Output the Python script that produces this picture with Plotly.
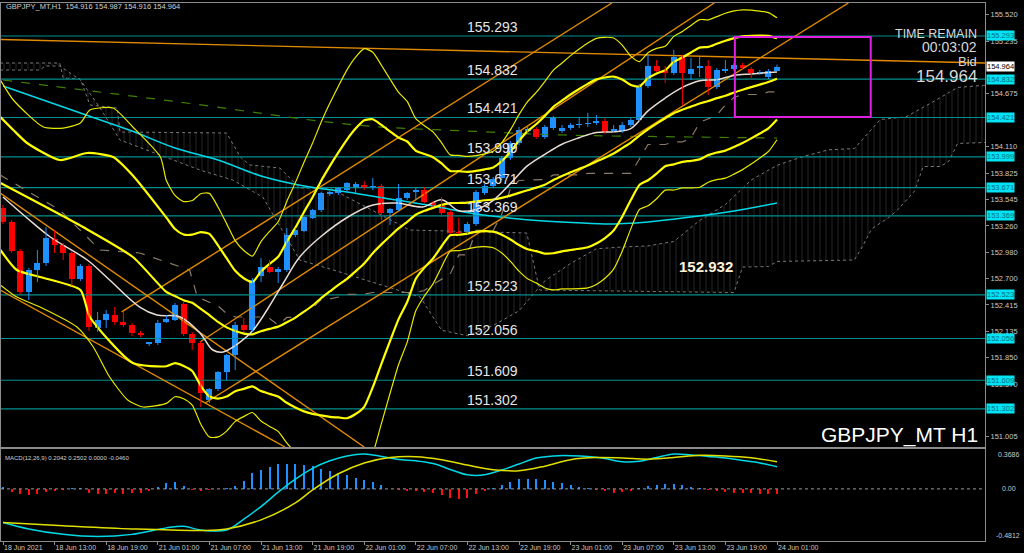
import plotly.graph_objects as go

# ---------------- data ----------------
bars = list(range(91))
opens = [153.452,153.303,152.993,152.554,152.789,152.864,153.121,153.057,152.971,152.693,
         152.832,152.168,152.254,152.308,152.233,152.201,152.115,151.997,152.008,152.233,
         152.254,152.425,152.104,152.008,151.398,151.516,151.698,151.880,152.201,152.147,
         152.725,152.821,152.768,152.789,153.164,153.206,153.345,153.431,153.602,153.613,
         153.645,153.666,153.699,153.677,153.688,153.399,153.431,153.559,153.624,153.645,
         153.506,153.474,153.410,153.196,153.196,153.281,153.613,153.688,153.773,153.987,
         154.148,154.276,154.298,154.212,154.308,154.276,154.308,154.341,154.351,154.362,
         154.383,154.276,154.276,154.341,154.394,154.758,154.972,154.929,154.897,155.068,
         154.886,154.950,154.972,154.747,154.918,154.940,154.983,154.940,154.897,154.854,
         154.916]
highs = [153.485,153.324,153.014,152.810,153.003,153.249,153.217,153.078,152.993,152.853,
         152.853,152.340,152.361,152.393,152.340,152.222,152.136,152.019,152.254,152.308,
         152.436,152.447,152.126,152.029,151.526,151.708,151.890,152.233,152.275,152.703,
         152.917,152.896,152.821,153.238,153.238,153.367,153.442,153.624,153.634,153.677,
         153.731,153.731,153.741,153.773,153.709,153.452,153.709,153.624,153.666,153.677,
         153.527,153.570,153.431,153.345,153.303,153.645,153.709,153.784,154.009,154.169,
         154.319,154.330,154.319,154.341,154.437,154.341,154.362,154.426,154.469,154.448,
         154.415,154.341,154.373,154.415,154.779,155.090,155.036,154.972,155.143,155.090,
         155.057,155.068,155.036,154.950,155.036,155.004,155.004,154.961,154.929,154.940,
         154.987]
lows = [153.281,152.971,152.532,152.468,152.661,152.832,152.971,152.896,152.618,152.671,
        152.136,152.126,152.168,152.201,152.179,152.083,152.072,151.976,151.987,152.222,
        152.243,152.083,151.933,151.323,151.366,151.494,151.612,151.719,152.126,152.126,
        152.661,152.757,152.650,152.768,153.142,153.196,153.335,153.410,153.581,153.592,
        153.624,153.613,153.645,153.645,153.324,153.271,153.420,153.538,153.538,153.506,
        153.463,153.356,153.174,153.174,153.174,153.260,153.592,153.666,153.752,153.966,
        154.126,154.255,154.191,154.191,154.287,154.255,154.287,154.308,154.319,154.341,
        154.244,154.255,154.255,154.319,154.373,154.736,154.908,154.790,154.876,154.555,
        154.822,154.854,154.662,154.726,154.897,154.918,154.940,154.843,154.876,154.833,
        154.916]
closes = [153.303,152.993,152.554,152.789,152.864,153.132,153.057,152.971,152.693,152.832,
          152.179,152.254,152.318,152.233,152.201,152.115,152.094,152.019,152.222,152.265,
          152.415,152.104,152.008,151.473,151.516,151.698,151.880,152.201,152.147,152.682,
          152.821,152.768,152.800,153.164,153.217,153.356,153.431,153.613,153.624,153.666,
          153.720,153.709,153.677,153.688,153.399,153.442,153.559,153.613,153.645,153.517,
          153.474,153.399,153.185,153.185,153.281,153.624,153.688,153.763,153.987,154.148,
          154.287,154.298,154.212,154.319,154.415,154.308,154.341,154.351,154.362,154.383,
          154.266,154.298,154.341,154.394,154.758,154.972,154.918,154.897,155.068,154.897,
          154.940,154.972,154.747,154.929,154.940,154.983,154.950,154.897,154.908,154.918,
          154.964]

x_tick_bars = [0, 6, 12, 18, 24, 30, 36, 42, 48, 54, 60, 66, 72, 78, 84, 90]
x_tick_text = ["18 Jun 2021", "18 Jun 13:00", "18 Jun 19:00", "21 Jun 01:00", "21 Jun 07:00",
               "21 Jun 13:00", "21 Jun 19:00", "22 Jun 01:00", "22 Jun 07:00", "22 Jun 13:00",
               "22 Jun 19:00", "23 Jun 01:00", "23 Jun 07:00", "23 Jun 13:00", "23 Jun 19:00",
               "24 Jun 01:00"]
price_ticks = [155.520, 155.235, 154.675, 154.110, 153.825, 153.545,
               153.260, 152.980, 152.700, 152.415, 152.135, 151.850, 151.570, 151.005]
levels = [155.293, 154.832, 154.421, 153.999, 153.671, 153.369, 152.523, 152.056, 151.609, 151.302]

# slow moving average (cyan)
ma_cyan_x = [0, 5, 10, 15, 20, 25, 30, 35, 40, 45, 50, 55, 60, 65, 70, 75, 80, 85, 90]
ma_cyan_y = [154.758, 154.597, 154.437, 154.276, 154.094, 153.966, 153.795, 153.688, 153.624,
             153.549, 153.474, 153.388, 153.335, 153.303, 153.281, 153.303, 153.356, 153.420, 153.506]
# dashed green moving average
ma_green_x = [0, 20, 41, 55, 65, 80, 90]
ma_green_y = [154.822, 154.592, 154.341, 154.272, 154.234, 154.212, 154.201]
# fast moving average (white)
ma_white_x = [0, 2.8, 5.5, 9.8, 12.4, 15.9, 17.9, 20.6, 22.9, 24.4, 25.6, 27.6, 29.1, 30.7, 32.6,
              34.5, 36.9, 40.3, 43, 45.8, 48.8, 51, 53, 55, 57, 59, 61, 63, 65, 67, 69, 71, 73,
              75, 77, 79, 81, 83, 85, 87, 90]
ma_white_y = [153.570, 153.345, 153.142, 152.896, 152.682, 152.393, 152.308, 152.286, 152.115,
              151.933, 151.912, 152.019, 152.147, 152.361, 152.650, 152.928, 153.142, 153.367,
              153.485, 153.506, 153.463, 153.541, 153.423, 153.438, 153.535, 153.713, 153.905,
              154.026, 154.135, 154.205, 154.261, 154.268, 154.302, 154.492, 154.629, 154.743,
              154.814, 154.825, 154.871, 154.887, 154.908]

# Bollinger bands 20 (thick: 2 dev, thin: 3 dev) - left part then one value per bar 19..90
bb_lead_mid_x = [-0.3, 9.3, 15.1]
bb_lead_mid_y = [153.720, 153.249, 152.928]
bb_lead_up_x = [-0.3, 1.2, 2.8, 6.6, 9.8, 12.8, 15.1]
bb_lead_up_y = [154.426, 154.287, 154.148, 153.966, 154.041, 153.998, 153.80]
bb_lead_lo_x = [-0.3, 1.6, 4.3, 9.0, 10.1, 15.1]
bb_lead_lo_y = [153.003, 152.789, 152.714, 152.575, 152.286, 151.794]
bb3_lead_up_x = [-0.3, 1.2, 4.7, 7.0, 9.0, 10.1, 12.8, 15.1, 18.3]
bb3_lead_up_y = [154.822, 154.608, 154.319, 154.308, 154.362, 154.501, 154.522, 154.319, 153.998]
bb3_lead_lo_x = [-0.3, 1.6, 4.3, 8.6, 10.5, 12.4, 14.5, 16.3]
bb3_lead_lo_y = [152.629, 152.500, 152.393, 152.179, 151.965, 151.644, 151.398, 151.323]
bb_bars = list(range(19, 91))
bb_mid = [152.554, 152.510, 152.466, 152.438, 152.372, 152.305, 152.233, 152.175, 152.136, 152.109,
          152.101, 152.133, 152.159, 152.183, 152.230, 152.280, 152.343, 152.409, 152.489, 152.559,
          152.629, 152.694, 152.775, 152.858, 152.969, 153.063, 153.150, 153.234, 153.305, 153.380,
          153.422, 153.454, 153.486, 153.505, 153.506, 153.509, 153.523, 153.535, 153.543, 153.561,
          153.585, 153.614, 153.643, 153.670, 153.701, 153.752, 153.795, 153.835, 153.871, 153.907,
          153.951, 153.990, 154.035, 154.093, 154.153, 154.227, 154.295, 154.356, 154.413, 154.467,
          154.504, 154.537, 154.571, 154.597, 154.628, 154.654, 154.688, 154.718, 154.746, 154.773,
          154.800, 154.835]
bb_up = [153.349, 153.228, 153.169, 153.167, 153.194, 153.175, 153.053, 152.915, 152.780, 152.701,
         152.659, 152.773, 152.855, 152.931, 153.092, 153.243, 153.410, 153.568, 153.745, 153.901,
         154.047, 154.185, 154.302, 154.391, 154.402, 154.341, 154.272, 154.205, 154.164, 154.065,
         154.030, 153.996, 153.929, 153.849, 153.846, 153.839, 153.849, 153.866, 153.887, 153.955,
         154.054, 154.172, 154.275, 154.349, 154.437, 154.536, 154.601, 154.667, 154.726, 154.781,
         154.829, 154.849, 154.859, 154.828, 154.769, 154.755, 154.841, 154.892, 154.926, 155.015,
         155.062, 155.117, 155.169, 155.176, 155.210, 155.242, 155.270, 155.288, 155.295, 155.297,
         155.295, 155.270]
bb_lo = [151.759, 151.792, 151.763, 151.709, 151.550, 151.435, 151.413, 151.435, 151.492, 151.517,
         151.543, 151.493, 151.463, 151.435, 151.368, 151.317, 151.276, 151.250, 151.233, 151.217,
         151.211, 151.203, 151.248, 151.325, 151.536, 151.785, 152.028, 152.263, 152.446, 152.695,
         152.814, 152.912, 153.043, 153.161, 153.166, 153.179, 153.197, 153.204, 153.199, 153.167,
         153.116, 153.056, 153.011, 152.991, 152.965, 152.968, 152.989, 153.003, 153.016, 153.033,
         153.073, 153.131, 153.211, 153.358, 153.537, 153.699, 153.749, 153.820, 153.900, 153.919,
         153.946, 153.957, 153.973, 154.018, 154.046, 154.066, 154.106, 154.148, 154.197, 154.249,
         154.305, 154.400]
bb3_up = [153.746, 153.587, 153.521, 153.532, 153.605, 153.609, 153.463, 153.285, 153.103, 152.997,
          152.938, 153.093, 153.203, 153.305, 153.522, 153.724, 153.943, 154.148, 154.373, 154.573,
          154.756, 154.930, 155.066, 155.157, 155.119, 154.980, 154.833, 154.690, 154.593, 154.408,
          154.333, 154.267, 154.150, 154.021, 154.016, 154.004, 154.012, 154.031, 154.059, 154.152,
          154.288, 154.451, 154.591, 154.689, 154.805, 154.928, 155.004, 155.083, 155.153, 155.217,
          155.268, 155.279, 155.272, 155.196, 155.077, 155.018, 155.114, 155.160, 155.182, 155.289,
          155.341, 155.406, 155.468, 155.466, 155.500, 155.536, 155.561, 155.573, 155.570, 155.559,
          155.543, 155.487]
bb3_lo = [151.362, 151.433, 151.411, 151.344, 151.139, 151.001, 151.003, 151.065, 151.169, 151.221,
          151.264, 151.173, 151.115, 151.061, 150.938, 150.836, 150.743, 150.670, 150.605, 150.545,
          150.502, 150.458, 150.484, 150.559, 150.819, 151.146, 151.467, 151.778, 152.017, 152.352,
          152.511, 152.641, 152.822, 152.989, 152.996, 153.014, 153.034, 153.039, 153.027, 152.970,
          152.882, 152.777, 152.695, 152.651, 152.597, 152.576, 152.586, 152.587, 152.589, 152.597,
          152.634, 152.701, 152.798, 152.990, 153.229, 153.436, 153.476, 153.552, 153.644, 153.645,
          153.667, 153.668, 153.674, 153.728, 153.756, 153.772, 153.815, 153.863, 153.922, 153.987,
          154.057, 154.183]

# Kijun-sen (dashed)
kijun_x = [-0.35, 6.6, 11.3, 15.9, 21.7, 22.6, 25, 26, 27, 30, 31, 32, 33, 34, 35, 36, 37, 38, 39,
           40, 42, 43, 48, 49, 50, 51, 52, 53, 54, 55, 57, 58, 59, 60, 63, 64, 67, 68, 73, 74, 75,
           77, 78, 79, 80, 81, 82, 83, 84, 85, 86, 88, 89, 90]
kijun_y = [153.806, 153.431, 153.003, 152.971, 152.789, 152.500, 152.404, 152.324, 152.286,
           152.286, 152.270, 152.200, 152.281, 152.281, 152.345, 152.382, 152.473, 152.479,
           152.500, 152.527, 152.532, 152.548, 152.548, 152.570, 152.634, 152.693, 152.746,
           152.950, 152.950, 153.212, 153.212, 153.388, 153.656, 153.747, 153.757, 153.806,
           153.806, 153.822, 153.822, 153.977, 154.132, 154.132, 154.159, 154.159, 154.202,
           154.367, 154.405, 154.448, 154.555, 154.635, 154.667, 154.667, 154.694, 154.694]

# Ichimoku cloud spans (shifted 26 bars forward)
span_a_x = [-0.35, 4.3, 4.9, 6.6, 9.0, 11.3, 13.6, 22.9, 26.7, 30.2, 34.5, 38.4, 48.5, 51, 54,
            57, 60, 63, 66, 69, 72, 75, 78, 81, 84, 87, 90, 93, 96, 99, 102, 105, 108, 111,
            114, 116]
span_a_y = [154.929, 154.929, 154.972, 154.972, 154.822, 154.522, 154.180, 153.859, 153.752,
            153.570, 152.896, 152.789, 152.500, 152.144, 152.085, 152.195, 152.352, 152.673,
            152.859, 153.016, 153.035, 153.046, 153.094, 153.319, 153.490, 153.752, 153.909,
            154.003, 154.075, 154.089, 154.399, 154.428, 154.581, 154.742, 154.765, 154.771]
span_b_x = [-0.35, 6.6, 7.0, 9.0, 10.1, 13.3, 13.6, 26.0, 27.6, 28.7, 32.2, 34.5, 38.0, 47.3,
            60.9, 62.4, 85, 86, 89, 90, 99, 100, 101, 102, 103, 104, 106, 107, 109, 110, 111, 116]
span_b_y = [155.004, 155.004, 154.843, 154.833, 154.555, 154.522, 154.266, 154.255, 153.998,
            153.913, 153.880, 153.666, 153.666, 153.217, 153.185, 152.575, 152.548, 152.821,
            152.826, 152.880, 152.896, 153.051, 153.228, 153.292, 153.351, 153.431, 153.634,
            153.896, 153.896, 153.955, 154.143, 154.159]

# orange trend lines: (x0, y0, x1, y1)
trend_lines = [(-0.35, 155.255, 114.2, 155.004),
               (13.8, 152.340, 70.8, 155.646),
               (22.9, 152.019, 82.7, 155.646),
               (23.5, 151.366, 98.3, 155.646),
               (-0.35, 153.613, 42.0, 150.895),
               (-0.35, 152.575, 32.8, 150.895)]
box_x = [85.1, 100.9]
box_y = [154.426, 155.282]

# MACD(12,26,9)
macd_hist = [0.02, -0.03, -0.05, -0.06, -0.05, -0.03, -0.02, -0.01, 0.005, 0.01,
             -0.04, -0.05, -0.05, -0.04, -0.05, -0.04, -0.04, -0.02, 0.02, 0.05,
             0.06, 0.03, -0.01, -0.02, -0.01, 0.0, 0.01, 0.03, 0.07, 0.145,
             0.175, 0.20, 0.23, 0.23, 0.23, 0.22, 0.21, 0.18, 0.17, 0.145,
             0.13, 0.10, 0.08, 0.06, 0.035, 0.0, -0.01, -0.02, -0.02, -0.03,
             -0.04, -0.06, -0.08, -0.095, -0.08, -0.05, -0.02, 0.01, 0.037, 0.067,
             0.09, 0.09, 0.088, 0.08, 0.067, 0.05, 0.037, 0.02, 0.005, -0.01,
             -0.02, -0.035, -0.03, -0.02, 0.01, 0.03, 0.04, 0.045, 0.045, 0.035,
             0.02, 0.01, -0.01, -0.02, -0.03, -0.035, -0.04, -0.04, -0.045, -0.045,
             -0.046]
macd_x = [0, 3, 7, 11, 15, 19, 21, 23, 26, 28, 30, 32, 34, 36, 38, 40, 42, 44, 46, 48, 50, 52,
          54, 56, 58, 60, 62, 64, 66, 68, 70, 72, 74, 76, 78, 80, 82, 84, 86, 88, 90]
macd_line = [-0.31, -0.37, -0.42, -0.44, -0.42, -0.36, -0.345, -0.38, -0.38, -0.28, -0.163,
             -0.03, 0.09, 0.19, 0.26, 0.305, 0.322, 0.30, 0.272, 0.26, 0.235, 0.18, 0.13, 0.13,
             0.175, 0.23, 0.285, 0.305, 0.307, 0.30, 0.28, 0.25, 0.255, 0.29, 0.322, 0.313,
             0.30, 0.285, 0.262, 0.24, 0.204]
sig_x = [0, 7, 15, 23, 26, 30, 34, 36, 39, 42, 45, 48, 51, 54, 57, 60, 63, 66, 69, 72, 75, 78,
         81, 84, 87, 90]
sig_line = [-0.31, -0.34, -0.37, -0.384, -0.37, -0.286, -0.13, -0.01, 0.14, 0.24, 0.29, 0.298,
            0.27, 0.22, 0.178, 0.168, 0.21, 0.27, 0.289, 0.285, 0.275, 0.29, 0.31, 0.305, 0.287,
            0.250]

# ---------------- figure ----------------
XR = [-0.2326, 114.186]
YR = [150.895, 155.646]
MR = [-0.4812, 0.3686]
FONT = "Liberation Sans"
YEL = "#ffff00"
BULL = "#1e90ff"
BEAR = "#ff0000"

fig = go.Figure()

# Ichimoku cloud
fig.add_trace(go.Scatter(x=span_b_x, y=span_b_y, mode="lines",
                         line=dict(color="#7a7a7a", width=1, dash="dot"), hoverinfo="skip"))
fig.add_trace(go.Scatter(x=span_a_x, y=span_a_y, mode="lines", fill="tonexty",
                         fillcolor="rgba(0,0,0,0)",
                         fillpattern=dict(shape="|", fgcolor="#6a6a6a", bgcolor="rgba(0,0,0,0)",
                                          size=6, solidity=0.12),
                         line=dict(color="#7a7a7a", width=1, dash="dot"), hoverinfo="skip"))

# horizontal levels
for lv in levels:
    fig.add_trace(go.Scatter(x=XR, y=[lv, lv], mode="lines",
                             line=dict(color="#008f8f", width=1.2), hoverinfo="skip"))

# moving averages
fig.add_trace(go.Scatter(x=ma_green_x, y=ma_green_y, mode="lines", line_shape="spline",
                         line=dict(color="#3f7f00", width=1.2, dash="dash")))
fig.add_trace(go.Scatter(x=kijun_x, y=kijun_y, mode="lines",
                         line=dict(color="#8a7a6a", width=1.2, dash="dash")))
fig.add_trace(go.Scatter(x=ma_cyan_x, y=ma_cyan_y, mode="lines", line_shape="spline",
                         line=dict(color="#00d8e8", width=1.5)))

# orange trend lines
for (xa, ya, xb, yb) in trend_lines:
    fig.add_trace(go.Scatter(x=[xa, xb], y=[ya, yb], mode="lines",
                             line=dict(color="#e08a00", width=1.4), hoverinfo="skip"))

# Bollinger bands
band_specs = [(bb3_lead_up_x, bb3_lead_up_y, bb3_up, 1.2),
              (bb3_lead_lo_x, bb3_lead_lo_y, bb3_lo, 1.2),
              (bb_lead_up_x, bb_lead_up_y, bb_up, 2.2),
              (bb_lead_lo_x, bb_lead_lo_y, bb_lo, 2.2),
              (bb_lead_mid_x, bb_lead_mid_y, bb_mid, 2.2)]
for lx, ly, vals, w in band_specs:
    fig.add_trace(go.Scatter(x=lx + bb_bars, y=ly + vals, mode="lines", line_shape="spline",
                             line=dict(color=YEL if w > 2 else "#e8e800", width=w, smoothing=0.6),
                             hoverinfo="skip"))

fig.add_trace(go.Scatter(x=ma_white_x, y=ma_white_y, mode="lines", line_shape="spline",
                         line=dict(color="#e8dcd4", width=1.5)))

# candles: wicks + bodies
for is_bull, col in [(True, BULL), (False, BEAR)]:
    wx, wy, bxs, bbase, bh = [], [], [], [], []
    for i, o, h, l, c in zip(bars, opens, highs, lows, closes):
        if (c >= o) != is_bull:
            continue
        wx += [i, i, None]
        wy += [l, h, None]
        bxs.append(i)
        bbase.append(min(o, c))
        bh.append(max(abs(c - o), 0.008))
    fig.add_trace(go.Scatter(x=wx, y=wy, mode="lines", line=dict(color=col, width=1),
                             hoverinfo="skip"))
    fig.add_trace(go.Bar(x=bxs, y=bh, base=bbase, width=0.68,
                         marker=dict(color=col, line=dict(width=0)), hoverinfo="skip"))

# MACD panel
hist_colors = [BULL if v >= 0 else "#ff1010" for v in macd_hist]
fig.add_trace(go.Bar(x=bars, y=macd_hist, marker=dict(color=hist_colors, line=dict(width=0)),
                     width=0.22, xaxis="x2", yaxis="y2"))
fig.add_trace(go.Scatter(x=XR, y=[0, 0], mode="lines", line=dict(color="#9a9a9a", width=1, dash="dot"),
                         xaxis="x2", yaxis="y2"))
fig.add_trace(go.Scatter(x=macd_x, y=macd_line, mode="lines", line_shape="spline",
                         line=dict(color="#00d8e8", width=1.5), xaxis="x2", yaxis="y2"))
fig.add_trace(go.Scatter(x=sig_x, y=sig_line, mode="lines", line_shape="spline",
                         line=dict(color="#e0e000", width=1.5), xaxis="x2", yaxis="y2"))

ann = []
for lv in levels:
    ann.append(dict(x=56.9, y=lv, xref="x", yref="y", text=f"{lv:.3f}", showarrow=False,
                    yshift=9, font=dict(family=FONT, size=14, color="#e6e6e6")))
for lv in levels:
    ann.append(dict(x=986 / 1024, y=lv, xref="paper", yref="y", text=f"{lv:.3f}", showarrow=False,
                    xanchor="left", bgcolor="#00e5f5", borderpad=0,
                    font=dict(family=FONT, size=7.5, color="#006c80")))
ann.append(dict(x=986 / 1024, y=closes[-1], xref="paper", yref="y", text=f"{closes[-1]:.3f}",
                showarrow=False, xanchor="left", bgcolor="#ffffff", borderpad=0,
                font=dict(family=FONT, size=7.5, color="#000000")))
ann += [
    dict(x=4 / 1024, y=(553 - 7) / 553, xref="paper", yref="paper", xanchor="left", yanchor="middle",
         text="GBPJPY_MT,H1  154.916 154.987 154.916 154.964", showarrow=False,
         font=dict(family=FONT, size=7.5, color="#d0d0d0")),
    dict(x=3 / 1024, y=(553 - 458) / 553, xref="paper", yref="paper", xanchor="left", yanchor="middle",
         text="MACD(12,26,9) 0.2042 0.2502 0.0000 -0.0460", showarrow=False,
         font=dict(family=FONT, size=6, color="#d0d0d0")),
    dict(x=980 / 1024, y=(553 - 435) / 553, xref="paper", yref="paper", xanchor="right", yanchor="middle",
         text="GBPJPY_MT H1", showarrow=False, font=dict(family=FONT, size=21, color="#ffffff")),
    dict(x=979 / 1024, y=(553 - 34) / 553, xref="paper", yref="paper", xanchor="right", yanchor="middle",
         text="TIME REMAIN", showarrow=False, font=dict(family=FONT, size=12.5, color="#d8d8d8")),
    dict(x=979 / 1024, y=(553 - 47.5) / 553, xref="paper", yref="paper", xanchor="right", yanchor="middle",
         text="00:03:02", showarrow=False, font=dict(family=FONT, size=14, color="#d8d8d8")),
    dict(x=979 / 1024, y=(553 - 61.5) / 553, xref="paper", yref="paper", xanchor="right", yanchor="middle",
         text="Bid", showarrow=False, font=dict(family=FONT, size=13, color="#d8d8d8")),
    dict(x=979 / 1024, y=(553 - 76) / 553, xref="paper", yref="paper", xanchor="right", yanchor="middle",
         text="154.964", showarrow=False, font=dict(family=FONT, size=17, color="#d8d8d8")),
    dict(x=81.8, y=152.932, xref="x", yref="y", text="<b>152.932</b>", showarrow=False, yshift=-10,
         font=dict(family=FONT, size=15, color="#fff2d8")),
    dict(x=1 - 2 / 1024, y=0.3686, xref="paper", yref="y2", xanchor="right", yanchor="top",
         text="0.3686", showarrow=False, font=dict(family=FONT, size=7, color="#c8c8c8")),
    dict(x=1 - 6 / 1024, y=0.0, xref="paper", yref="y2", xanchor="right",
         text="0.00", showarrow=False, font=dict(family=FONT, size=7, color="#c8c8c8")),
    dict(x=1 - 2 / 1024, y=-0.4812, xref="paper", yref="y2", xanchor="right", yanchor="bottom",
         text="-0.4812", showarrow=False, font=dict(family=FONT, size=7, color="#c8c8c8")),
]

shapes = [dict(type="rect", xref="x", yref="y", x0=box_x[0], x1=box_x[1], y0=box_y[0], y1=box_y[1],
               line=dict(color="#e020e0", width=2))]

axis_common = dict(showgrid=False, zeroline=False, showline=True, linecolor="#8c8c8c",
                   linewidth=1, mirror=True, automargin=False)
fig.update_layout(
    width=1024, height=553, margin=dict(l=0, r=0, t=0, b=0, autoexpand=False),
    paper_bgcolor="#000000", plot_bgcolor="#000000", showlegend=False,
    font=dict(family=FONT, color="#c8c8c8"), barmode="overlay",
    xaxis=dict(domain=[1 / 1024, 985 / 1024], range=XR, anchor="y", showticklabels=False,
               ticks="", rangeslider=dict(visible=False), **axis_common),
    yaxis=dict(domain=[(553 - 447) / 553, (553 - 3) / 553], range=YR, anchor="x", side="right",
               tickvals=price_ticks, ticktext=[f"{t:.3f}" for t in price_ticks],
               ticks="outside", ticklen=3, tickcolor="#8c8c8c",
               tickfont=dict(family=FONT, size=7.5, color="#c8c8c8"), **axis_common),
    xaxis2=dict(domain=[1 / 1024, 985 / 1024], range=XR, anchor="y2", matches="x",
                tickvals=x_tick_bars, ticktext=x_tick_text, ticks="outside", ticklen=3,
                tickcolor="#8c8c8c", ticklabelposition="outside right",
                tickfont=dict(family=FONT, size=7, color="#c8c8c8"), **axis_common),
    yaxis2=dict(domain=[(553 - 541) / 553, (553 - 449) / 553], range=MR, anchor="x2", side="right",
                showticklabels=False, ticks="", **axis_common),
    annotations=ann, shapes=shapes, bargap=0,
)

fig.write_html(
    "out.html",
    config={"displayModeBar": False, "staticPlot": True},
    post_script="document.body.style.margin='0';document.body.style.padding='0';"
                "document.body.style.background='#000';document.body.style.overflow='hidden';",
)
